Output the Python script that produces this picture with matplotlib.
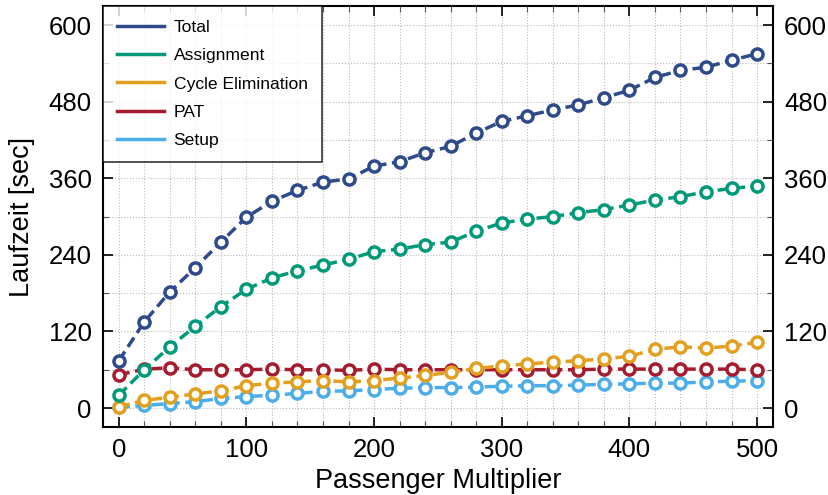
import numpy as np
import matplotlib
matplotlib.use("Agg")
import matplotlib.pyplot as plt
from matplotlib.ticker import MultipleLocator

plt.rcParams['font.family'] = ['Liberation Sans', 'DejaVu Sans']

# Daten
multiplier = list(range(0, 501, 20))

total = [74, 135, 182, 220, 260, 299, 324, 341, 354, 359, 379, 386, 400, 410,
         431, 449, 458, 467, 475, 486, 498, 518, 529, 534, 545, 555]
assignment = [20, 60, 96, 128, 159, 186, 204, 215, 224, 233, 245, 249, 256, 260,
              277, 290, 296, 300, 306, 311, 318, 326, 331, 339, 344, 348]
cycle_elim = [2, 12, 17, 22, 27, 35, 39, 41, 43, 41, 43, 47, 51, 56,
              62, 66, 69, 72, 74, 77, 81, 92, 96, 94, 97, 103]
pat = [52, 61, 63, 60, 60, 60, 61, 60, 60, 59, 61, 60, 60, 60,
       60, 60, 60, 60, 60, 61, 61, 61, 61, 61, 61, 60]
setup = [1, 4, 7, 10, 15, 18, 20, 23, 26, 27, 29, 31, 32, 32,
         33, 34, 35, 35, 36, 37, 38, 39, 39, 41, 42, 43]

series = [
    ("Total", total, "#2e4a8b"),
    ("Assignment", assignment, "#009a78"),
    ("Cycle Elimination", cycle_elim, "#e2a01e"),
    ("PAT", pat, "#a51c2e"),
    ("Setup", setup, "#4badea"),
]

fig = plt.figure(figsize=(8.29, 4.95), dpi=100)
ax = fig.add_axes([0.124, 0.137, 0.8085, 0.851])

# in umgekehrter Reihenfolge zeichnen, damit Total oben liegt
for name, vals, col in reversed(series):
    ax.plot(multiplier, vals, color=col, lw=2.5, ls=(0, (3.2, 1.6)),
            marker="o", ms=8, mew=2.5, mfc="white", mec=col, zorder=3)

# Legende nur mit Linien
handles = [plt.Line2D([], [], color=c, lw=2.5) for _, _, c in series]
leg = ax.legend(handles, [n for n, _, _ in series], loc="upper left",
                fontsize=12.6, frameon=True, fancybox=False, edgecolor="black",
                borderaxespad=0.0, handlelength=2.7, labelspacing=0.74,
                borderpad=0.8, handletextpad=0.55)
leg.get_frame().set_linewidth(1.2)
leg.set_zorder(5)

ax.set_xlim(-12.5, 512.5)
ax.set_ylim(-30, 630)
ax.xaxis.set_major_locator(MultipleLocator(100))
ax.xaxis.set_minor_locator(MultipleLocator(20))
ax.yaxis.set_major_locator(MultipleLocator(120))
ax.yaxis.set_minor_locator(MultipleLocator(60))

ax.grid(which="both", color="#bbbbbb", ls=":", lw=0.8)
ax.set_axisbelow(True)

ax.tick_params(which="both", direction="in", top=True, right=True,
               labelright=True, labelsize=18.5, color="black")
ax.tick_params(which="major", length=7, width=1.2, pad=8)
ax.tick_params(which="minor", length=4, width=0.8, color="#555555")

for sp in ax.spines.values():
    sp.set_linewidth(1.5)

ax.set_xlabel("Passenger Multiplier", fontsize=19.5, labelpad=4)
ax.set_ylabel("Laufzeit [sec]", fontsize=19.5, labelpad=10)

fig.savefig("out.png", dpi=100)
